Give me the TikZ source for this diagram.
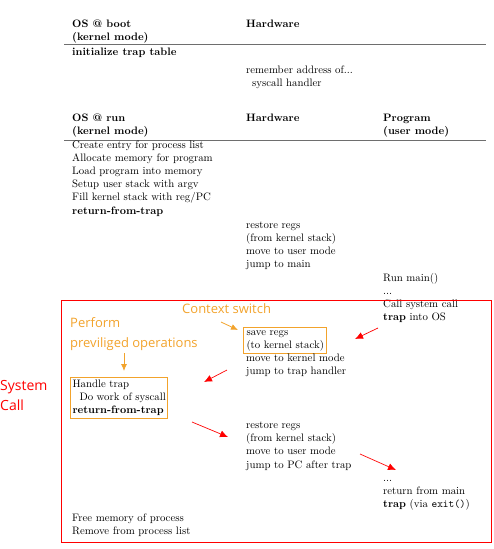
\documentclass[tikz,border=0pt]{standalone}
\usepackage{fontspec}
\newfontfamily\notefont{Open Sans}
\usetikzlibrary{arrows.meta}
\definecolor{noteorange}{HTML}{F2A32C}
\definecolor{rulegray}{HTML}{6E6E6E}
\tikzset{
  txt/.style={anchor=base west,align=left,inner sep=0pt,
    font=\fontsize{10.8}{13.2}\selectfont},
  hdr/.style={txt,font=\fontsize{10.8}{13.2}\selectfont\bfseries},
  note/.style={anchor=base west,inner sep=0pt,text=noteorange,
    font=\notefont\fontsize{13}{20}\selectfont},
  notebox/.style={draw=noteorange,line width=1pt,inner xsep=3pt,inner ysep=2.5pt},
  rulerline/.style={rulegray,line width=1pt},
  redarr/.style={red,line width=0.7pt,-{Latex[length=8pt,width=7pt]}},
  orarr/.style={noteorange,line width=0.8pt,-{Latex[length=7pt,width=6pt]}}
}
\begin{document}
\begin{tikzpicture}[x=1pt,y=-1pt]
    \path[use as bounding box] (0,0) rectangle (493,549);
    % Boot table (a node sits on the baseline of its last line)
    \node[hdr] (bootos) at (72,40.2) {OS @ boot\\(kernel mode)};
    \node[hdr] (boothw) at (246,27) {Hardware};
    \draw[rulerline] (64,44.7) -- (486,44.7);
    \node[hdr] (inittrap) at (72,55) {initialize trap table};
    \node[txt] (remember) at (246,86.2) {remember address of...\\\hspace{6pt}syscall handler};

    % Run table
    \node[hdr] (runos) at (72,134.2) {OS @ run\\(kernel mode)};
    \node[hdr] (runhw) at (246,121) {Hardware};
    \node[hdr] (runprog) at (383,134.2) {Program\\(user mode)};
    \draw[rulerline] (64,140.7) -- (486,140.7);

    \node[txt] (setup) at (72,214) {Create entry for process list\\Allocate memory for program\\Load program into memory\\Setup user stack with argv\\Fill kernel stack with reg/PC\\\textbf{return-from-trap}};
    \node[txt] (restore) at (246,267.6) {restore regs\\(from kernel stack)\\move to user mode\\jump to main};
    \node[txt] (runmain) at (383,320.6) {Run main()\\...\\Call system call\\\textbf{trap} into OS};

    % System call part
    \node[txt,notebox] (saveregs) at (243,348.2) {save regs\\(to kernel stack)};
    \node[txt] (tokernel) at (246,374.6) {move to kernel mode\\jump to trap handler};
    \node[txt,notebox,inner xsep=2pt] (handle) at (70,413.4) {Handle trap\\\hspace{7pt}Do work of syscall\\\textbf{return-from-trap}};
    \node[txt] (restore2) at (246,468.1) {restore regs\\(from kernel stack)\\move to user mode\\jump to PC after trap};
    \node[txt] (retmain) at (383,507.4) {...\\return from main\\\textbf{trap} (via \texttt{exit()})};
    \node[txt] (freemem) at (72,534.2) {Free memory of process\\Remove from process list};

    \draw[red,line width=0.8pt] (61,300) rectangle (491,542);
    \node[anchor=base west,inner sep=0pt,text=red,font=\notefont\fontsize{14}{20}\selectfont,align=left]
        (syscall) at (0,410) {System\\Call};

    % Notes
    \node[note,align=left] (perform) at (70,347) {Perform\\previliged operations};
    \node[note] (ctxsw) at (182,313) {Context switch};

    % Arrows
    \coordinate (o1s) at (124,353);
    \coordinate (o1e) at (124,371);
    \coordinate (o2s) at (221,322);
    \coordinate (o2e) at (238,330);
    \draw[orarr] (o1s) -- (o1e);
    \draw[orarr] (o2s) -- (o2e);

    \coordinate (r1s) at (378,328);
    \coordinate (r1e) at (355,339);
    \coordinate (r2s) at (227,370);
    \coordinate (r2e) at (204,382);
    \coordinate (r3s) at (192,422);
    \coordinate (r3e) at (228,437);
    \coordinate (r4s) at (360,454);
    \coordinate (r4e) at (396,470);
    \draw[redarr] (r1s) -- (r1e);
    \draw[redarr] (r2s) -- (r2e);
    \draw[redarr] (r3s) -- (r3e);
    \draw[redarr] (r4s) -- (r4e);
\end{tikzpicture}
\end{document}
